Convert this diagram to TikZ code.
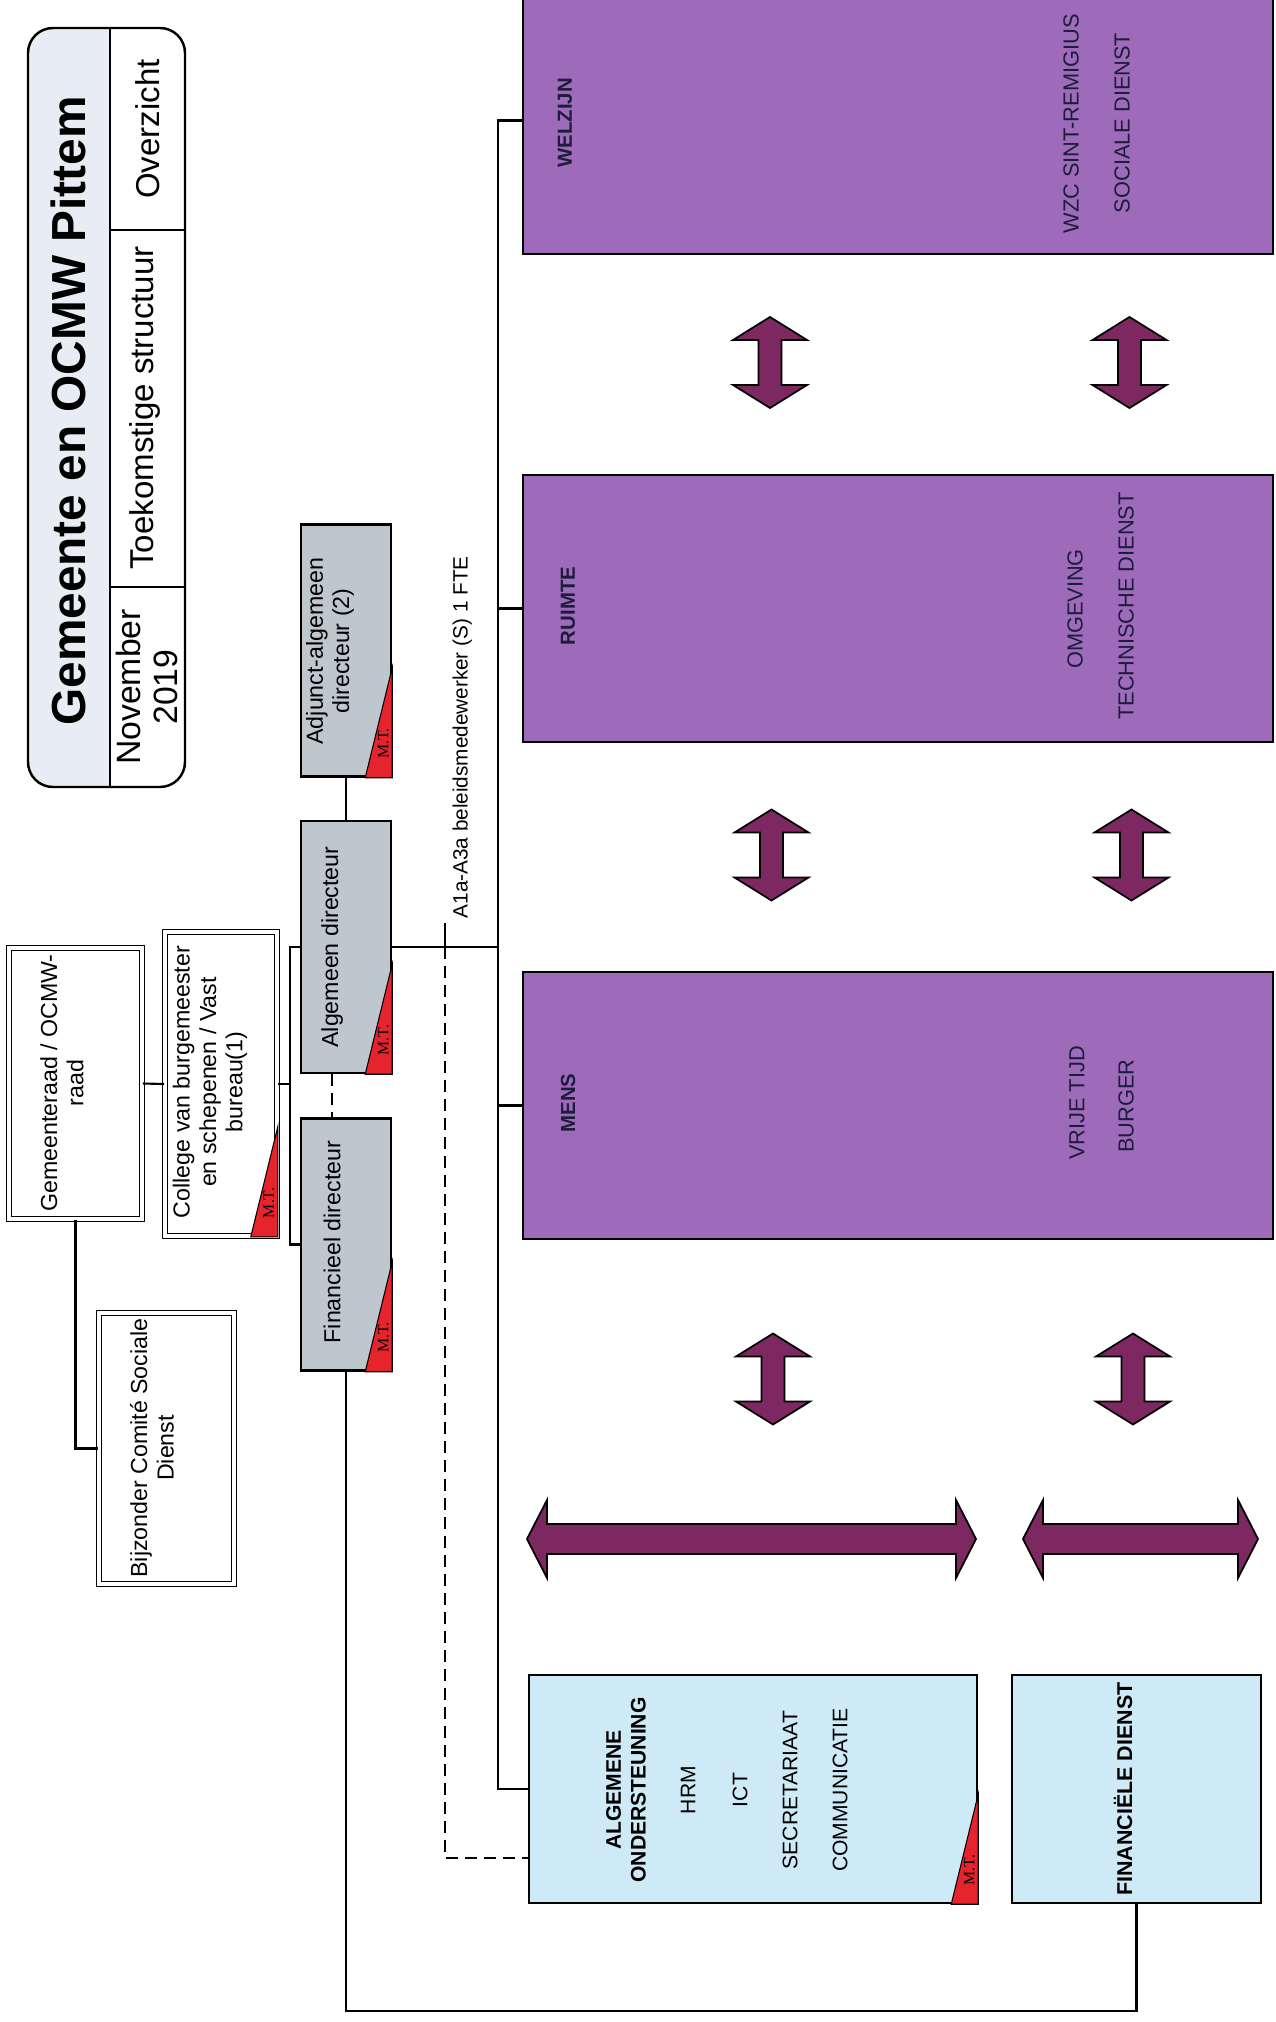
\documentclass[tikz,border=0pt]{standalone}
\usepackage{fontspec}
\setmainfont{Liberation Sans}
\newfontfamily\mtfont{Liberation Serif}
\usetikzlibrary{positioning}

\definecolor{kopgrijs}{RGB}{232,236,245}
\definecolor{dirgrijs}{RGB}{190,199,206}
\definecolor{paars}{RGB}{158,106,186}
\definecolor{pijlpaars}{RGB}{126,40,98}
\definecolor{steunblauw}{RGB}{207,234,247}
\definecolor{mtrood}{RGB}{230,36,46}
\definecolor{paarstekst}{RGB}{28,28,60}

\tikzset{
  raad/.style={draw, double, double distance=0.35mm, line width=0.45pt, fill=white, inner sep=0pt},
  dir/.style={draw, line width=0.7pt, fill=dirgrijs, inner sep=0pt, minimum width=9mm, minimum height=25.2mm},
  pijler/.style={draw, line width=0.7pt, fill=paars, inner sep=0pt, minimum width=75mm, minimum height=26.7mm},
  steun/.style={draw, line width=0.7pt, fill=steunblauw, inner sep=0pt, minimum height=22.8mm},
  vtekst/.style={rotate=90, align=center, inner sep=0pt, font=\fontsize{6.6}{7.5}\selectfont},
  ptekst/.style={rotate=90, inner sep=0pt, text=paarstekst, font=\fontsize{6.2}{7.4}\selectfont},
  pkop/.style={ptekst, font=\bfseries\fontsize{5.8}{7}\selectfont},
  stekst/.style={rotate=90, align=center, inner sep=0pt, font=\fontsize{6}{7.1}\selectfont},
  lijn/.style={line width=0.6pt},
  stippel/.style={line width=0.6pt, dash pattern=on 1.2mm off 0.7mm},
  blokpijl/.style={fill=pijlpaars, draw=black, line width=0.5pt},
}

% rode M.T.-hoek rechtsonder in een kader
\newcommand{\mtdriehoek}[1]{%
  \filldraw[fill=mtrood, draw=black, line width=0.3pt] ([yshift=11mm]#1.south east) -- (#1.south east) -- ([xshift=-2.7mm]#1.south east) -- cycle;
  \node[rotate=90, inner sep=0pt, font=\mtfont\fontsize{4.5}{5}\selectfont] (#1mt) at ([xshift=-0.9mm, yshift=3.4mm]#1.south east) {M.T.};}

% dubbele blokpijlen
\newcommand{\vpijl}[2]{\draw[blokpijl] (#1,#2) ++(0,-45.5) -- ++(37,23) -- ++(-25.5,0) -- ++(0,45) -- ++(25.5,0) -- ++(-37,23) -- ++(-37,-23) -- ++(25.5,0) -- ++(0,-45) -- ++(-25.5,0) -- cycle;}
\newcommand{\hpijl}[3]{\draw[blokpijl] (#1,#3) -- ({#1+20},{#3-39}) -- ({#1+20},{#3-15}) -- ({#2-20},{#3-15}) -- ({#2-20},{#3-39}) -- (#2,#3) -- ({#2-20},{#3+39}) -- ({#2-20},{#3+15}) -- ({#1+20},{#3+15}) -- ({#1+20},{#3+39}) -- cycle;}

\begin{document}
\begin{tikzpicture}[x=0.1mm, y=-0.1mm]
\useasboundingbox (0,0) rectangle (1276,2022);
\clip (0,0) rectangle (1276,2022);

% titelkader
\fill[kopgrijs, rounded corners=2.5mm] (28,28) rectangle (185,787);
\begin{scope}
\clip[rounded corners=2.5mm] (28,28) rectangle (185,787);
\fill[white] (110,28) rectangle (185,787);
\end{scope}
\draw[line width=0.7pt, rounded corners=2.5mm] (28,28) rectangle (185,787);
\draw[lijn] (110,28) -- (110,787);
\draw[lijn] (110,230) -- (185,230);
\draw[lijn] (110,587) -- (185,587);
\node[rotate=90, font=\bfseries\fontsize{13.6}{16}\selectfont] (titel) at (68,411) {Gemeente en OCMW Pittem};
\node[rotate=90, font=\fontsize{9.4}{11}\selectfont] (overzicht) at (148,129) {Overzicht};
\node[rotate=90, font=\fontsize{9.4}{11}\selectfont] (structuur) at (145,408) {Toekomstige structuur};
\node[rotate=90, align=center, font=\fontsize{9.6}{10.5}\selectfont] (datum) at (147,687) {November\\2019};

% raden
\node[raad, minimum width=13.3mm, minimum height=27.1mm] (raad) at (75.5,1083.5) {};
\node[vtekst] (raadt) at (62,1083) {Gemeenteraad / OCMW-\\raad};
\node[raad, minimum width=11.2mm, minimum height=30.4mm] (college) at (221,1084) {};
\node[vtekst] (colleget) at (210,1082) {College van burgemeester\\en schepenen / Vast\\bureau(1)};
\node[raad, minimum width=13.5mm, minimum height=27.1mm] (bcsd) at (166.5,1448.5) {};
\node[vtekst] (bcsdt) at (152,1448) {Bijzonder Comité Sociale\\Dienst};
\mtdriehoek{college}

% directeurs
\node[dir] (adjunct) at (346,650.5) {};
\node[vtekst] (adjunctt) at (330,651) {Adjunct-algemeen\\directeur (2)};
\node[dir] (algdir) at (346,947) {};
\node[vtekst] (algdirt) at (332,947) {Algemeen directeur};
\node[dir] (findir) at (346,1244.5) {};
\node[vtekst] (findirt) at (332,1242) {Financieel directeur};
\mtdriehoek{adjunct}
\mtdriehoek{algdir}
\mtdriehoek{findir}

% pijlers
\node[pijler] (welzijn) at (898,120.5) {};
\node[pijler] (ruimte) at (898,608.5) {};
\node[pijler] (mens) at (898,1105.5) {};
\node[pkop] (welzijnt) at (565,123) {WELZIJN};
\node[ptekst] (wzc) at (1071,124) {WZC SINT-REMIGIUS};
\node[ptekst] (sociale) at (1122,123) {SOCIALE DIENST};
\node[pkop] (ruimtet) at (568,606) {RUIMTE};
\node[ptekst] (omgeving) at (1075,609) {OMGEVING};
\node[ptekst] (technische) at (1126,606) {TECHNISCHE DIENST};
\node[pkop] (menst) at (568,1103) {MENS};
\node[ptekst] (vrijetijd) at (1077,1103) {VRIJE TIJD};
\node[ptekst] (burger) at (1126,1106) {BURGER};

% ondersteunende diensten
\node[steun, minimum width=44.8mm] (algemeen) at (753,1789) {};
\node[steun, minimum width=24.9mm] (findienst) at (1136.5,1789) {};
\node[stekst, font=\bfseries\fontsize{6}{7.1}\selectfont] (algt) at (626,1790) {ALGEMENE\\ONDERSTEUNING};
\node[stekst] (hrm) at (688,1790) {HRM};
\node[stekst] (ict) at (740,1790) {ICT};
\node[stekst] (secr) at (790,1790) {SECRETARIAAT};
\node[stekst] (comm) at (840,1790) {COMMUNICATIE};
\node[stekst, font=\bfseries\fontsize{6.1}{7.1}\selectfont] (fint) at (1123,1789) {FINANCIËLE DIENST};
\mtdriehoek{algemeen}

% verbindingen
\draw[lijn] (raad.east) -- (college.west);
\draw[lijn] (raad.south) |- (bcsd.west);
\coordinate (splits) at (290,1084);
\draw[lijn] (college.east) -- (splits);
\draw[lijn] (algdir.west) -| (splits) |- (findir.west);
\draw[lijn] (adjunct.south) -- (algdir.north);
\draw[stippel] ([xshift=-1.4mm]algdir.south) -- ([xshift=-1.4mm]findir.north);
\coordinate (stam) at (498,947);
\draw[lijn] (algdir.east) -- (stam);
\draw[lijn] (welzijn.west) -| (stam) |- (algemeen.west);
\draw[lijn] (ruimte.west) -- (ruimte.west -| stam);
\draw[lijn] (mens.west) -- (mens.west -| stam);

% beleidsmedewerker
\coordinate (bm) at (445,947);
\draw[lijn] (bm) -- ++(0,-24) coordinate (bmtop);
\node[rotate=90, anchor=north west, inner sep=0pt, font=\fontsize{5.9}{7}\selectfont] (bmt) at ([xshift=0.7mm, yshift=0.4mm]bmtop) {A1a-A3a beleidsmedewerker (S) 1 FTE};
\draw[stippel] (bm) |- ([yshift=-6.9mm]algemeen.west);

% financieel directeur naar financiele dienst
\coordinate (fonder) at (0,2011);
\draw[lijn] (findir.south) -- (findir.south |- fonder) -| (findienst.south);

% pijlen
\vpijl{770}{362.5}
\vpijl{1129.5}{362.5}
\vpijl{771.5}{855}
\vpijl{1131.5}{855}
\vpijl{773}{1379}
\vpijl{1133}{1379}
\hpijl{527}{976}{1539}
\hpijl{1023}{1258}{1539}

\end{tikzpicture}
\end{document}
